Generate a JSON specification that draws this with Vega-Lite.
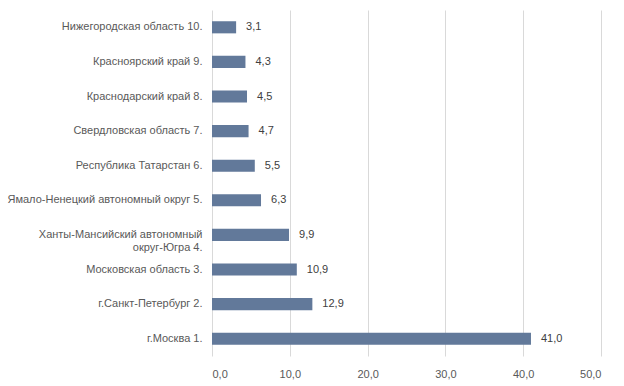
{
  "$schema": "https://vega.github.io/schema/vega-lite/v6.json",
  "width": 389,
  "height": 346,
  "autosize": {"type": "none"},
  "padding": {"left": 212, "top": 10, "right": 23, "bottom": 30},
  "background": "white",
  "config": {"view": {"stroke": null}, "font": "Liberation Sans"},
  "data": {"values": [
    {"region": "Нижегородская область 10.", "value": 3.1},
    {"region": "Красноярский край 9.", "value": 4.3},
    {"region": "Краснодарский край 8.", "value": 4.5},
    {"region": "Свердловская область 7.", "value": 4.7},
    {"region": "Республика Татарстан 6.", "value": 5.5},
    {"region": "Ямало-Ненецкий автономный округ 5.", "value": 6.3},
    {"region": "Ханты-Мансийский автономный округ-Югра 4.", "value": 9.9},
    {"region": "Московская область 3.", "value": 10.9},
    {"region": "г.Санкт-Петербург 2.", "value": 12.9},
    {"region": "г.Москва 1.", "value": 41.0}
  ]},
  "encoding": {
    "y": {"field": "region", "type": "nominal", "sort": null,
      "scale": {"paddingInner": 0.65, "paddingOuter": 0.325},
      "axis": {"title": null, "domain": false, "ticks": false, "labelPadding": 10,
        "labelFontSize": 11, "labelColor": "#595959", "labelLimit": 300,
        "labelExpr": "datum.value == 'Ханты-Мансийский автономный округ-Югра 4.' ? ['Ханты-Мансийский автономный', 'округ-Югра 4.'] : datum.value"}},
    "x": {"field": "value", "type": "quantitative",
      "scale": {"domain": [0, 50], "nice": false},
      "axis": {"title": null, "values": [0, 10, 20, 30, 40, 50], "domain": false, "ticks": false,
        "gridColor": "#d9d9d9", "labelPadding": 12, "labelFontSize": 11, "labelColor": "#595959",
        "labelExpr": "replace(format(datum.value, '.1f'), '.', ',')"}}
  },
  "layer": [
    {"mark": {"type": "bar", "color": "#62799a"}},
    {"mark": {"type": "text", "align": "left", "dx": 10, "fontSize": 11, "color": "#404040",
      "text": {"expr": "replace(format(datum.value, '.1f'), '.', ',')"}}}
  ]
}
